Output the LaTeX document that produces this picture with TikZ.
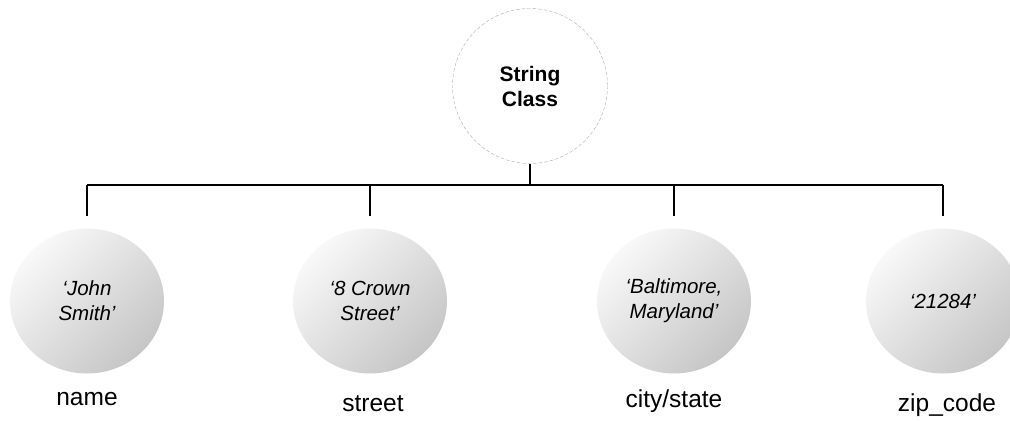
\documentclass[tikz,border=0pt]{standalone}
\usepackage{fontspec}
\setmainfont{Liberation Sans}
\usetikzlibrary{shapes.geometric,positioning}

\begin{document}
\begin{tikzpicture}[
  x=1pt, y=1pt,
  cls/.style={circle, draw=gray!65, dash pattern=on 3.5pt off 2pt, fill=white,
              minimum size=155pt, inner sep=0pt, align=center,
              font=\fontsize{21}{25}\selectfont\bfseries},
  obj/.style={ellipse, minimum width=154pt, minimum height=145pt, inner sep=0pt,
              align=center, shading=axis, top color=gray!5, bottom color=gray!45,
              shading angle=45, font=\fontsize{20.5}{25}\selectfont\itshape},
  lbl/.style={font=\fontsize{24.5}{28}\selectfont, anchor=base},
  link/.style={line width=1.6pt, black}
]
  \useasboundingbox (0,0) rectangle (1010,421);

  \node[cls] (string) at (530,335) {String\\Class};
  \coordinate (bar) at (530,236);

  \node[obj] (name)  at (87,120)  {`John\\Smith'};
  \node[obj] (street) at (370,120) {`8 Crown\\Street'};
  \node[obj] (city)  at (674,120)  {`Baltimore,\\Maryland'};
  \node[obj] (zip)   at (943,120)  {`21284'};

  \node[lbl] (nameLbl)   at (87,16)  {name};
  \node[lbl] (streetLbl) at (373,10) {street};
  \node[lbl] (cityLbl)   at (674,14) {city/state};
  \node[lbl] (zipLbl)    at (947,10) {zip\_code};

  % tree connectors
  \draw[link] (string.south) -- (string.south |- bar);
  \draw[link] (name.north |- bar) -- (zip.north |- bar);
  \foreach \n in {name, street, city, zip}
    \draw[link, shorten >=12pt] (\n.north |- bar) -- (\n.north);
\end{tikzpicture}
\end{document}
